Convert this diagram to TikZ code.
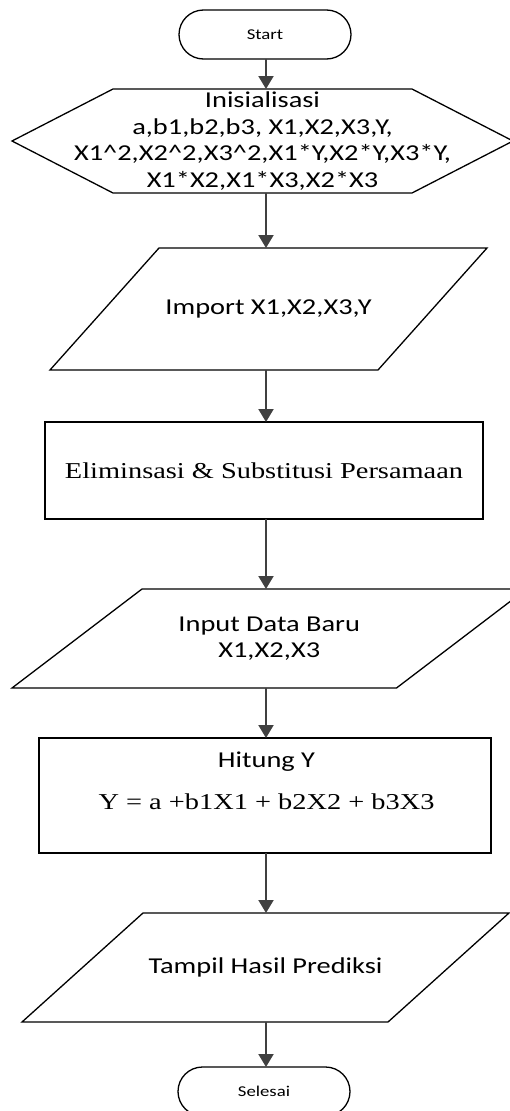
\documentclass[tikz,border=0pt]{standalone}
\usepackage{fontspec}
\setmainfont{Liberation Serif}[FakeStretch=1.25]
\newfontfamily\flowsans{Carlito}[FakeStretch=1.25]
\usetikzlibrary{arrows.meta}
\definecolor{arrowgray}{HTML}{404040}

% slanted input/output box drawn around an invisible rectangular node
\newcommand\ioshape[2]{%
  \draw[outline] ([xshift=#2]#1.north west) -- ([xshift=#2]#1.north east)
    -- ([xshift=-#2]#1.south east) -- ([xshift=-#2]#1.south west) -- cycle;}

\begin{document}
\begin{tikzpicture}[x=1pt,y=-1pt,
  outline/.style={draw=black,line width=1.3pt},
  box/.style={inner sep=0pt,outer sep=0pt},
  terminal/.style={box,outline,rounded corners=24.5pt,minimum width=172pt,
    minimum height=49pt,font=\flowsans\fontsize{15}{18}\selectfont},
  sanstext/.style={font=\flowsans\fontsize{22.7}{26.5}\selectfont,align=center},
  serifttext/.style={font=\fontsize{22.7}{26.5}\selectfont,align=center},
  flow/.style={draw=arrowgray,line width=2pt,-{Triangle[length=13pt,width=15pt]}}]

\fill[white] (0,0) rectangle (510,1111);
\useasboundingbox (0,0) rectangle (510,1111);
\clip (0,0) rectangle (510,1111);

\coordinate (axis) at (266,0);

% start
\node[terminal] (start) at (265,34.5) {Start};

% initialisation (hexagon)
\node[box,minimum width=501pt,minimum height=104pt,sanstext] (init) at (262.5,141)
  {Inisialisasi\\
   a,b1,b2,b3, X1,X2,X3,Y,\\
   X1\textasciicircum2,X2\textasciicircum2,X3\textasciicircum2,X1*Y,X2*Y,X3*Y,\\
   X1*X2,X1*X3,X2*X3};
\draw[outline] (init.west) -- ([xshift=101pt]init.north west)
  -- ([xshift=-101pt]init.north east) -- (init.east)
  -- ([xshift=-101pt]init.south east) -- ([xshift=101pt]init.south west) -- cycle;

% import data
\node[box,minimum width=328pt,minimum height=122pt,sanstext] (import) at (268.5,309)
  {Import X1,X2,X3,Y};
\ioshape{import}{54.5pt}

% elimination / substitution
\node[box,outline,minimum width=438pt,minimum height=97pt,serifttext] (elim) at (264,470.5)
  {Eliminsasi \& Substitusi Persamaan};

% new input data
\node[box,minimum width=384.5pt,minimum height=99pt,
  font=\flowsans\fontsize{22.7}{26}\selectfont,align=center] (input) at (269.25,638.5)
  {Input Data Baru\\X1,X2,X3};
\ioshape{input}{65pt}

% compute Y
\node[box,outline,minimum width=452pt,minimum height=115pt] (hitung) at (265,795.5) {};
\node[font=\fontsize{22.7}{42}\selectfont,align=center,inner sep=0pt] (hitungtxt) at (266.5,781)
  {{\flowsans Hitung Y}\\Y = a +b1X1 + b2X2 + b3X3};

% show prediction
\node[box,minimum width=366pt,minimum height=109pt,sanstext] (tampil) at (265.5,967.5)
  {Tampil Hasil Prediksi};
\ioshape{tampil}{60.5pt}

% end
\node[terminal] (selesai) at (264,1091.5) {Selesai};

% connectors
\draw[flow] (start.south -| axis) -- (init.north -| axis);
\draw[flow] (init.south -| axis) -- (import.north -| axis);
\draw[flow] (import.south -| axis) -- (elim.north -| axis);
\draw[flow] (elim.south -| axis) -- (input.north -| axis);
\draw[flow] (input.south -| axis) -- (hitung.north -| axis);
\draw[flow] (hitung.south -| axis) -- (tampil.north -| axis);
\draw[flow] (tampil.south -| axis) -- (selesai.north -| axis);
\end{tikzpicture}
\end{document}
